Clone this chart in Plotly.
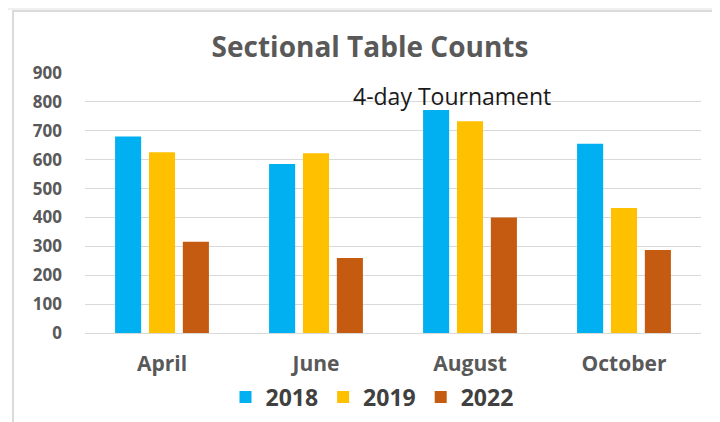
import plotly.graph_objects as go

months = ["April", "June", "August", "October"]
years = ["2018", "2019", "2022"]
counts_2018 = [680, 585, 772, 655]
counts_2019 = [626, 622, 733, 433]
counts_2022 = [316, 260, 400, 287]
colors = ["#00B0F0", "#FFC000", "#C55A11"]
y_ticks = [0, 100, 200, 300, 400, 500, 600, 700, 800, 900]

series = [counts_2018, counts_2019, counts_2022]

fig = go.Figure()
for name, vals, col in zip(years, series, colors):
    fig.add_trace(go.Bar(x=months, y=vals, name=name, marker=dict(color=col, line=dict(width=0))))

W, H = 720, 422
OFF = 8  # page body margin offset
# plot area in reference-screen pixels
X0, X1, Y0, Y1 = 85, 701, 73, 333
L, R, T, B = X0 - OFF, W - (X1 - OFF), Y0 - OFF, H - (Y1 - OFF)
pw, ph = W - L - R, H - T - B


def px(x):
    return (x - X0) / pw


def py(y):
    return (Y1 - y) / ph


fig.update_layout(
    width=W, height=H,
    margin=dict(l=L, r=R, t=T, b=B),
    paper_bgcolor="white",
    plot_bgcolor="white",
    font=dict(family="Open Sans", color="#595959"),
    title=dict(text="Sectional Table Counts", x=(370 - OFF) / W, xanchor="center",
               y=1 - (47 - OFF) / H, yanchor="middle",
               font=dict(size=28, color="#595959", weight="bold")),
    barmode="group",
    bargap=0.34,
    bargroupgap=0.23,
    showlegend=True,
    legend=dict(orientation="h", x=px(372), xanchor="center", y=py(397), yanchor="middle",
                font=dict(size=23, color="#404040", weight="bold"), itemwidth=30,
                traceorder="normal", bgcolor="rgba(0,0,0,0)"),
    xaxis=dict(showgrid=False, showline=True, linecolor="#d9d9d9", linewidth=1,
               tickfont=dict(size=21, color="#595959", family="Open Sans", weight="bold"),
               ticks="", ticklabelstandoff=12),
    yaxis=dict(range=[0, 900], tickvals=y_ticks, showgrid=True, gridcolor="#d9d9d9",
               gridwidth=1, zeroline=False, showline=False,
               tickfont=dict(size=17, color="#595959", family="Open Sans", weight="bold"),
               ticklabelstandoff=22),
    annotations=[dict(x="August", y=821, xref="x", yref="y", text="4-day Tournament",
                      showarrow=False, xshift=-18, yanchor="middle",
                      font=dict(size=23, color="#1a1a1a", family="Open Sans"))],
    shapes=[
        dict(type="rect", xref="paper", yref="paper", x0=px(-5), x1=px(W + 20), y0=py(10), y1=py(-20),
             fillcolor="#f0f0f0", line=dict(width=0), layer="below"),
        dict(type="rect", xref="paper", yref="paper", x0=px(13), x1=px(W + 20), y0=py(H + 20), y1=py(11),
             fillcolor="rgba(0,0,0,0)", line=dict(color="#d0d0d0", width=1.5), layer="below"),
    ],
)

fig.write_html("out.html")
